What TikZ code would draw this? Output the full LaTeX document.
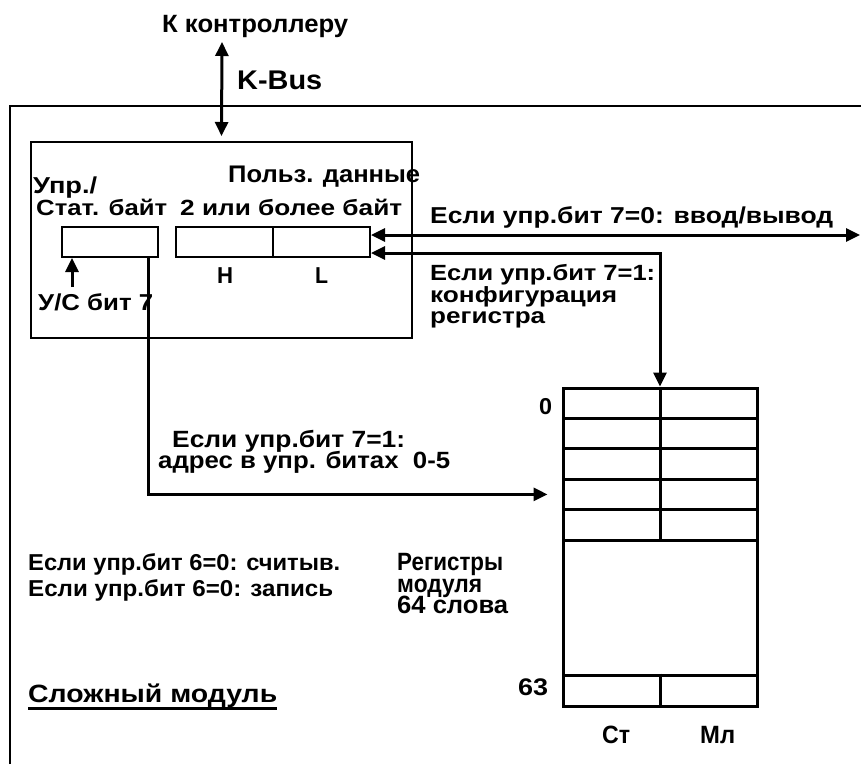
\documentclass[tikz,border=0pt]{standalone}
\usepackage{fontspec}
\setmainfont{Liberation Sans}
\usepackage{graphicx}
\usetikzlibrary{arrows.meta}

% bold text at a given size, stretched horizontally to a given width
\newlength\natwd
\newcommand\fitto[3]{{\fontsize{#2}{#2}\selectfont\bfseries
  \settowidth\natwd{#3}\pgfmathsetmacro\xfac{#1/\natwd}\scalebox{\xfac}[1]{#3}}}

\tikzset{
  lbl/.style={inner sep=0pt, anchor=base west},
  box/.style={draw, line width=2pt, inner sep=0pt},
  cell/.style={draw, line width=3pt, inner sep=0pt, minimum width=194pt},
  arr/.style={line width=3pt, -{Triangle[length=14pt,width=13pt]}},
  dbl/.style={line width=3pt, {Triangle[length=14pt,width=13pt]}-{Triangle[length=14pt,width=13pt]}},
}

\begin{document}
\begin{tikzpicture}[x=1pt,y=-1pt]
\useasboundingbox (0,0) rectangle (861,764);

% module frame (open on the right and at the bottom)
\draw[line width=2pt] (10,764) -- (10,106) -- (861,106);

% bus interface block
\node[box, minimum width=381pt, minimum height=196pt] (inner) at (221.5,240) {};
\node[box, minimum width=96pt,  minimum height=30pt]  (ctrl)  at (110,242) {};
\node[box, minimum width=194pt, minimum height=30pt]  (data)  at (273,242) {};
\draw[line width=2pt] (data.north) -- (data.south);

% module registers
\foreach \i in {0,...,4}
  \node[cell, minimum height=30.4pt] (r\i) at (660,{403.2+30.4*\i}) {};
\node[cell, minimum height=135pt] (rmid) at (660,607.5) {};
\node[cell, minimum height=31pt] (r63) at (660,690.5) {};
\draw[line width=3pt] (r0.north) -- (r4.south);
\draw[line width=3pt] (r63.north) -- (r63.south);

% connectors
\coordinate (kctl) at (222,42);
\coordinate (io)   at (860,235);
\coordinate (uc)   at (72,287);
\draw[dbl] (kctl) -- ([yshift=5pt]inner.north);
\draw[dbl] ([yshift=7pt]data.east) -- (io);
\draw[dbl] ([yshift=-11pt]data.east) -| (r0.north);
\draw[arr] (uc) -- ([xshift=-38pt]ctrl.south);
\draw[arr] ([xshift=38pt]ctrl.south) |- ([xshift=-14pt]r3.west);

% labels
\node[lbl] (tctl)  at (162,32)  {\fitto{186}{25}{К контроллеру}};
\node[lbl] (tkbus) at (237,89)  {\fitto{85}{27}{K-Bus}};
\node[lbl] (tupr)  at (33,193)  {\fitto{64}{23}{Упр./}};
\node[lbl] (tstat) at (36,215)  {\fitto{131}{22}{Стат. байт}};
\node[lbl] (tuser) at (228,182) {\fitto{192}{24}{Польз. данные}};
\node[lbl] (tbyte) at (180,215) {\fitto{222}{22}{2 или более байт}};
\node[lbl] (th)    at (217,283) {\fitto{16}{23}{H}};
\node[lbl] (tl)    at (315,283) {\fitto{13}{23}{L}};
\node[lbl] (tuc)   at (38,310)  {\fitto{115}{23}{У/С бит 7}};
\node[lbl] (tio)   at (430,223) {\fitto{403}{23}{Если упр.бит 7=0: ввод/вывод}};
\node[lbl] (tcf1)  at (430,280) {\fitto{225}{22}{Если упр.бит 7=1:}};
\node[lbl] (tcf2)  at (430,302) {\fitto{187}{22}{конфигурация}};
\node[lbl] (tcf3)  at (430,323) {\fitto{115}{22}{регистра}};
\node[lbl] (tad1)  at (172,447) {\fitto{233}{23.5}{Если упр.бит 7=1:}};
\node[lbl] (tad2)  at (158,468) {\fitto{292}{23.5}{адрес в упр. битах\ \ 0-5}};
\node[lbl] (trd)   at (28,570)  {\fitto{312}{23}{Если упр.бит 6=0: считыв.}};
\node[lbl] (twr)   at (28,596)  {\fitto{305}{23}{Если упр.бит 6=0: запись}};
\node[lbl] (treg1) at (397,570) {\fitto{106}{25}{Регистры}};
\node[lbl] (treg2) at (397,592) {\fitto{85}{25}{модуля}};
\node[lbl] (treg3) at (397,613) {\fitto{111}{25}{64 слова}};
\node[lbl] (tz)    at (539,414) {\fitto{13}{23}{0}};
\node[lbl] (t63)   at (518,695) {\fitto{30}{24}{63}};
\node[lbl] (tmod)  at (28,702)  {\fitto{249}{25}{Сложный модуль}};
\draw[line width=3pt] ([yshift=-6.5pt]tmod.base west) -- ([yshift=-6.5pt]tmod.base east);
\node[lbl] (tst)   at (602,743) {\fitto{28}{25}{Ст}};
\node[lbl] (tml)   at (700,743) {\fitto{35}{25}{Мл}};
\end{tikzpicture}
\end{document}
